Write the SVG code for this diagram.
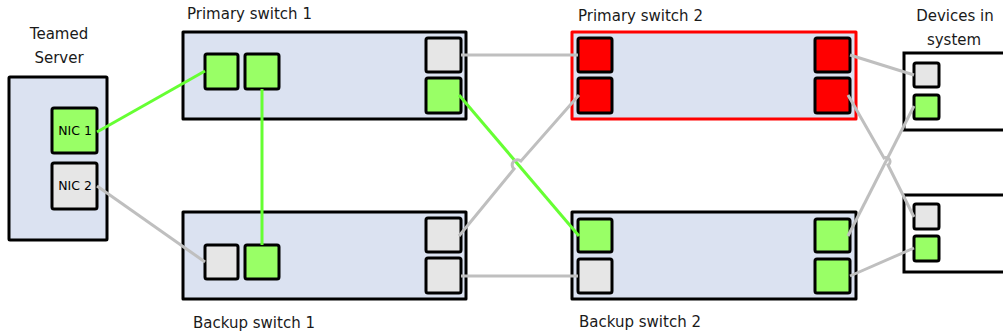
<svg xmlns="http://www.w3.org/2000/svg" width="1003" height="335" viewBox="0 0 1003 335">
<style>
.box{fill:#dbe2f1;stroke:#000;stroke-width:3;stroke-linejoin:round}
.dev{fill:#fff;stroke:#000;stroke-width:3}
.p{stroke:#000;stroke-width:3;stroke-linejoin:round}
.g{fill:#99ff66}
.r{fill:#ff0000}
.w{fill:#e6e6e6}
.lg{stroke:#66ff33;stroke-width:3;fill:none}
.lw{stroke:#bfbfbf;stroke-width:3;fill:none}
text{font-family:"DejaVu Sans",Verdana,sans-serif;font-size:15px;fill:#1a1a1a}
.s{font-size:12.5px;text-anchor:middle;fill:#000}
</style>
<g id="server">
<rect class="box" x="9" y="77" width="98" height="163" rx="1"/>
<text x="59" y="39" text-anchor="middle">Teamed</text>
<text x="59" y="63" text-anchor="middle">Server</text>
<rect class="p g" x="52" y="108" width="45" height="45" rx="2"/>
<text class="s" x="75" y="135">NIC 1</text>
<rect class="p w" x="52" y="163" width="45" height="46" rx="2"/>
<text class="s" x="75" y="190">NIC 2</text>
</g>
<g id="ps1">
<text x="187" y="19">Primary switch 1</text>
<rect class="box" x="183" y="32" width="283" height="87"/>
<rect class="p g" x="205" y="54" width="33" height="35" rx="2"/>
<rect class="p g" x="245" y="54" width="34" height="35" rx="2"/>
<rect class="p w" x="426" y="38" width="35" height="34" rx="2"/>
<rect class="p g" x="426" y="78" width="35" height="35" rx="2"/>
</g>
<g id="bs1">
<text x="193" y="328">Backup switch 1</text>
<rect class="box" x="183" y="212" width="283" height="87"/>
<rect class="p w" x="205" y="245" width="33" height="34" rx="2"/>
<rect class="p g" x="245" y="245" width="34" height="34" rx="2"/>
<rect class="p w" x="426" y="218" width="35" height="34" rx="2"/>
<rect class="p w" x="426" y="258" width="35" height="35" rx="2"/>
</g>
<g id="ps2">
<text x="578" y="21">Primary switch 2</text>
<rect class="box" x="572" y="32" width="284" height="87" style="stroke:#ff0000"/>
<rect class="p r" x="578" y="38" width="34" height="34" rx="2"/>
<rect class="p r" x="578" y="78" width="34" height="35" rx="2"/>
<rect class="p r" x="815" y="38" width="35" height="34" rx="2"/>
<rect class="p r" x="815" y="78" width="35" height="35" rx="2"/>
</g>
<g id="bs2">
<text x="579" y="327">Backup switch 2</text>
<rect class="box" x="572" y="212" width="284" height="87"/>
<rect class="p g" x="578" y="219" width="34" height="33" rx="2"/>
<rect class="p w" x="578" y="259" width="34" height="34" rx="2"/>
<rect class="p g" x="815" y="219" width="35" height="33" rx="2"/>
<rect class="p g" x="815" y="259" width="35" height="34" rx="2"/>
</g>
<g id="devices">
<text x="955" y="21" text-anchor="middle">Devices in</text>
<text x="954" y="45" text-anchor="middle">system</text>
<rect class="dev" x="904" y="53" width="110" height="77"/>
<rect class="p w" x="914" y="63" width="25" height="24" rx="2"/>
<rect class="p g" x="914" y="95" width="25" height="24" rx="2"/>
<rect class="dev" x="904" y="195" width="110" height="77"/>
<rect class="p w" x="914" y="204" width="25" height="25" rx="2"/>
<rect class="p g" x="914" y="236" width="25" height="25" rx="2"/>
</g>
<g id="connectors">
<line class="lg" x1="97" y1="132" x2="205" y2="71"/>
<line class="lg" x1="262" y1="89" x2="262" y2="245"/>
<line class="lw" x1="97" y1="186" x2="205" y2="262"/>
<line class="lw" x1="461" y1="55" x2="578" y2="55"/>
<line class="lg" x1="459" y1="95" x2="579" y2="236"/>
<path class="lw" d="M459 236 L514 169 A4 4 0 0 1 521 161 L579 95"/>
<line class="lw" x1="461" y1="276" x2="578" y2="276"/>
<line class="lw" x1="850" y1="55" x2="914" y2="75"/>
<path class="lw" d="M848 95 L884 158 A4 4 0 0 1 888 165 L914 217"/>
<line class="lw" x1="848" y1="236" x2="914" y2="106"/>
<line class="lw" x1="850" y1="276" x2="914" y2="248"/>
</g>
</svg>
